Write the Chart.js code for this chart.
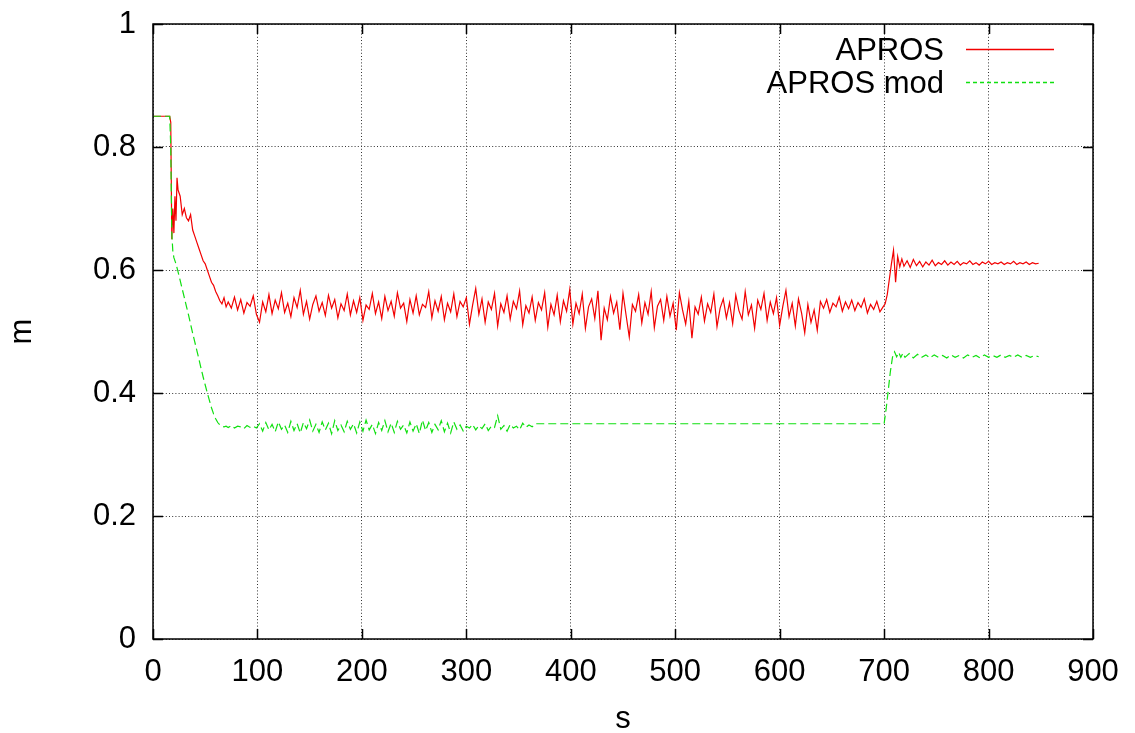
<!DOCTYPE html>
<html>
<head>
<meta charset="utf-8">
<title>APROS vs APROS mod</title>
<script src="https://cdn.jsdelivr.net/npm/chart.js@4.4.0/dist/chart.umd.min.js"></script>
<style>
  html, body { margin: 0; padding: 0; background: #fff; }
  canvas { display: block; }
</style>
</head>
<body>
<canvas id="chart" width="1135" height="733"></canvas>
<script>
// axis ticks
const xTickValues = [0, 100, 200, 300, 400, 500, 600, 700, 800, 900];
const yTickValues = [0, 0.2, 0.4, 0.6, 0.8, 1];

// APROS (red, solid) - time in s, value in m
const redTimes = [
    0, 16, 17, 18, 19, 20, 21, 22, 23, 24,
    26, 28, 30, 32, 34, 36, 38, 40, 42, 44, 46, 48, 50, 52, 54, 56, 58, 60, 62, 64, 66, 68, 70,
    72, 75, 78, 81, 84, 87, 90, 93, 96, 99,
    102, 105, 108, 111, 114, 117, 120, 123, 126, 129,
    132, 135, 138, 141, 144, 147, 150, 153, 156, 159,
    162, 165, 168, 171, 174, 177, 180, 183, 186, 189,
    192, 195, 198, 201, 204, 207, 210, 213, 216, 219,
    222, 225, 228, 231, 234, 237, 240, 243, 246, 249,
    252, 255, 258, 261, 264, 267, 270, 273, 276, 279,
    282, 285, 288, 291, 294, 297, 300, 303, 306, 309,
    312, 315, 318, 321, 324, 327, 330, 333, 336, 339,
    342, 345, 348, 351, 354, 357, 360, 363, 366, 369,
    372, 375, 378, 381, 384, 387, 390, 393, 396, 399,
    402, 405, 408, 411, 414, 417, 420, 423, 426, 429,
    432, 435, 438, 441, 444, 447, 450, 453, 456, 459,
    462, 465, 468, 471, 474, 477, 480, 483, 486, 489,
    492, 495, 498, 501, 504, 507, 510, 513, 516, 519,
    522, 525, 528, 531, 534, 537, 540, 543, 546, 549,
    552, 555, 558, 561, 564, 567, 570, 573, 576, 579,
    582, 585, 588, 591, 594, 597, 600, 603, 606, 609,
    612, 615, 618, 621, 624, 627, 630, 633, 636, 639,
    642, 645, 648, 651, 654, 657, 660, 663, 666, 669,
    672, 675, 678, 681, 684, 687, 690, 693, 696, 699,
    701, 703, 705, 707, 709, 711, 713, 715, 717, 719,
    722, 725, 728, 731, 734, 737, 740, 743, 746, 749,
    752, 755, 758, 761, 764, 767, 770, 773, 776, 779,
    782, 785, 788, 791, 794, 797, 800, 803, 806, 809,
    812, 815, 818, 821, 824, 827, 830, 833, 836, 839,
    842, 845, 848
];
const redValues = [
    0.85, 0.85, 0.84, 0.65, 0.70, 0.66, 0.72, 0.68, 0.75, 0.73,
    0.72, 0.69, 0.70, 0.685, 0.68, 0.69, 0.665, 0.655, 0.645, 0.635, 0.625, 0.615, 0.61, 0.60, 0.59, 0.58, 0.575, 0.565, 0.558, 0.55, 0.545, 0.555, 0.54,
    0.548, 0.538, 0.556, 0.535, 0.552, 0.530, 0.547, 0.541, 0.558, 0.528,
    0.515, 0.548, 0.532, 0.560, 0.529, 0.551, 0.537, 0.563, 0.531, 0.546,
    0.524, 0.555, 0.539, 0.567, 0.528, 0.549, 0.520, 0.544, 0.558, 0.533,
    0.547, 0.526, 0.559, 0.538, 0.552, 0.522, 0.545, 0.534, 0.561, 0.527,
    0.550, 0.531, 0.555, 0.518, 0.543, 0.536, 0.562, 0.529, 0.548, 0.521,
    0.557, 0.534, 0.549, 0.525, 0.563, 0.538, 0.546, 0.516, 0.552, 0.530,
    0.558, 0.527, 0.544, 0.539, 0.565, 0.522, 0.550, 0.533, 0.557, 0.519,
    0.546, 0.532, 0.561, 0.524, 0.549, 0.540, 0.555, 0.512, 0.543, 0.570,
    0.528, 0.553, 0.515, 0.548, 0.536, 0.562, 0.509, 0.545, 0.531, 0.558,
    0.520, 0.549, 0.537, 0.566, 0.511, 0.542, 0.530, 0.556, 0.518, 0.547,
    0.535, 0.563, 0.507, 0.544, 0.527, 0.559, 0.516, 0.550, 0.533, 0.568,
    0.512, 0.546, 0.529, 0.561, 0.505, 0.540, 0.553, 0.521, 0.566, 0.486,
    0.538, 0.519, 0.557, 0.530, 0.548, 0.503, 0.562, 0.526, 0.491, 0.544,
    0.533, 0.560, 0.514, 0.547, 0.528, 0.565, 0.506, 0.541, 0.552, 0.518,
    0.557, 0.525, 0.546, 0.502, 0.563, 0.535, 0.512, 0.549, 0.489, 0.540,
    0.528, 0.556, 0.517, 0.545, 0.531, 0.561, 0.508, 0.538, 0.553, 0.522,
    0.547, 0.513, 0.559, 0.534, 0.520, 0.565, 0.527, 0.543, 0.505, 0.551,
    0.536, 0.562, 0.518, 0.548, 0.529, 0.555, 0.510, 0.541, 0.567, 0.524,
    0.546, 0.509, 0.553, 0.530, 0.498, 0.544, 0.515, 0.535, 0.502, 0.549,
    0.538, 0.552, 0.531, 0.546, 0.540, 0.556, 0.533, 0.548, 0.537, 0.551,
    0.534, 0.547, 0.539, 0.553, 0.530, 0.544, 0.536, 0.549, 0.532, 0.540,
    0.545, 0.560, 0.585, 0.610, 0.632, 0.580, 0.622, 0.605, 0.618, 0.606,
    0.615, 0.604, 0.617, 0.607, 0.614, 0.605, 0.613, 0.608, 0.616, 0.607,
    0.612, 0.609, 0.615, 0.608, 0.613, 0.609, 0.614, 0.608, 0.612, 0.610,
    0.615, 0.609, 0.612, 0.608, 0.613, 0.610, 0.614, 0.609, 0.612, 0.610,
    0.613, 0.609, 0.612, 0.610, 0.614, 0.609, 0.612, 0.610, 0.613, 0.609,
    0.612, 0.610, 0.611
];

// APROS mod (green, dashed)
const greenTimes = [
    0, 16, 17, 18, 19,
    20, 22, 24, 26, 28, 30, 32, 34, 36, 38, 40, 42, 44, 46, 48, 50, 52, 54, 56, 58, 60, 62, 64, 66, 68, 70,
    72, 75, 78, 81, 84, 87, 90, 93, 96, 99,
    102, 105, 108, 111, 114, 117, 120, 123, 126, 129,
    132, 135, 138, 141, 144, 147, 150, 153, 156, 159,
    162, 165, 168, 171, 174, 177, 180, 183, 186, 189,
    192, 195, 198, 201, 204, 207, 210, 213, 216, 219,
    222, 225, 228, 231, 234, 237, 240, 243, 246, 249,
    252, 255, 258, 261, 264, 267, 270, 273, 276, 279,
    282, 285, 288, 291, 294, 297, 300, 303, 306, 309,
    312, 315, 318, 321, 324, 327, 330, 333, 336, 339,
    342, 345, 348, 351, 354, 357, 360, 363,
    366,
    700, 702, 704, 706, 708, 710, 712, 714, 716, 718, 720,
    724, 728, 732, 736, 740, 744, 748, 752, 756, 760,
    764, 768, 772, 776, 780, 784, 788, 792, 796, 800,
    804, 808, 812, 816, 820, 824, 828, 832, 836, 840,
    844, 848
];
const greenValues = [
    0.85, 0.85, 0.80, 0.66, 0.63,
    0.62, 0.61, 0.597, 0.583, 0.569, 0.555, 0.541, 0.527, 0.512, 0.497, 0.483, 0.469, 0.455, 0.44, 0.426, 0.413, 0.40, 0.388, 0.376, 0.366, 0.358, 0.352, 0.348, 0.346, 0.345, 0.346,
    0.344, 0.347, 0.343, 0.346, 0.345, 0.342, 0.347, 0.344, 0.346, 0.343,
    0.350, 0.338, 0.352, 0.340, 0.349, 0.337, 0.353, 0.341, 0.348, 0.336,
    0.354, 0.339, 0.350, 0.335, 0.352, 0.342, 0.356, 0.338, 0.349, 0.336,
    0.353, 0.340, 0.351, 0.334, 0.355, 0.339, 0.348, 0.337, 0.354, 0.341,
    0.350, 0.335, 0.353, 0.338, 0.356, 0.340, 0.349, 0.334, 0.352, 0.339,
    0.355, 0.337, 0.351, 0.336, 0.354, 0.341, 0.348, 0.335, 0.353, 0.338,
    0.350, 0.334, 0.356, 0.339, 0.352, 0.336, 0.349, 0.340, 0.355, 0.337,
    0.351, 0.335, 0.353, 0.341, 0.348, 0.338, 0.346, 0.343, 0.349, 0.340,
    0.347, 0.342, 0.350, 0.339, 0.346, 0.344, 0.363, 0.341, 0.347, 0.338,
    0.349, 0.343, 0.346, 0.340, 0.351, 0.344, 0.348, 0.345,
    0.35,
    0.35, 0.375, 0.405, 0.435, 0.458, 0.467, 0.459, 0.466, 0.458, 0.465, 0.458,
    0.464, 0.457, 0.463, 0.458, 0.462, 0.457, 0.462, 0.458, 0.461, 0.457,
    0.462, 0.458, 0.461, 0.457, 0.462, 0.458, 0.461, 0.457, 0.462, 0.458,
    0.461, 0.458, 0.462, 0.458, 0.461, 0.458, 0.462, 0.458, 0.461, 0.458,
    0.461, 0.459
];

const FONT = "'Liberation Sans', Arial, Helvetica, sans-serif";
Chart.defaults.font.family = FONT;
Chart.defaults.font.size = 31;
Chart.defaults.color = '#000';

const RED = '#f20000';
const GREEN = '#10e010';
const legendColors = [RED, GREEN];

// gnuplot style frame with inward ticks on all four sides
const framePlugin = {
    id: 'frame',
    afterDatasetsDraw(chart) {
        const { ctx, chartArea: a, scales } = chart;
        ctx.save();
        ctx.strokeStyle = '#000';
        ctx.lineWidth = 1.5;
        ctx.setLineDash([]);
        ctx.strokeRect(a.left, a.top, a.right - a.left, a.bottom - a.top);
        ctx.beginPath();
        const tl = 10;
        xTickValues.forEach(v => {
            const x = Math.round(scales.x.getPixelForValue(v)) + 0.5;
            ctx.moveTo(x, a.bottom); ctx.lineTo(x, a.bottom - tl);
            ctx.moveTo(x, a.top); ctx.lineTo(x, a.top + tl);
        });
        yTickValues.forEach(v => {
            const y = Math.round(scales.y.getPixelForValue(v)) + 0.5;
            ctx.moveTo(a.left, y); ctx.lineTo(a.left + tl, y);
            ctx.moveTo(a.right, y); ctx.lineTo(a.right - tl, y);
        });
        ctx.stroke();
        ctx.restore();
    },
    afterDraw(chart) {
        // legend: right aligned label, then line sample
        const { ctx } = chart;
        ctx.save();
        ctx.font = '31px ' + FONT;
        ctx.textAlign = 'right';
        ctx.textBaseline = 'alphabetic';
        chart.data.datasets.forEach((ds, i) => {
            const yLine = 49.5 + i * 33;
            ctx.fillStyle = '#000';
            ctx.fillText(ds.label, 944, 60 + i * 33);
            ctx.beginPath();
            ctx.strokeStyle = legendColors[i];
            ctx.lineWidth = 1.3;
            ctx.setLineDash(i === 0 ? [] : [4, 3]);
            ctx.moveTo(966, yLine);
            ctx.lineTo(1054, yLine);
            ctx.stroke();
        });
        ctx.restore();
    }
};

new Chart(document.getElementById('chart').getContext('2d'), {
    type: 'line',
    data: {
        datasets: [
            {
                label: 'APROS',
                data: redTimes.map((t, i) => ({ x: t, y: redValues[i] })),
                borderColor: RED,
                borderWidth: 1.2,
                pointRadius: 0,
                tension: 0,
                order: 1
            },
            {
                label: 'APROS mod',
                data: greenTimes.map((t, i) => ({ x: t, y: greenValues[i] })),
                borderColor: GREEN,
                borderWidth: 1.2,
                borderDash: [8, 4],
                pointRadius: 0,
                tension: 0,
                order: 0
            }
        ]
    },
    options: {
        responsive: false,
        animation: false,
        layout: { padding: { top: 24, right: 42, left: 0, bottom: 0 } },
        plugins: {
            legend: { display: false },
            tooltip: { enabled: false }
        },
        scales: {
            x: {
                type: 'linear',
                min: 0,
                max: 900,
                afterBuildTicks: s => { s.ticks = xTickValues.map(v => ({ value: v })); },
                afterFit: s => {
                    s.height = 94;
                    s.paddingLeft = 0;
                    s.paddingRight = 0;
                },
                ticks: { padding: 15, maxRotation: 0, autoSkip: false, callback: v => String(v) },
                grid: { color: '#333', lineWidth: 1, drawTicks: false },
                border: { display: false, dash: [1, 2.2] },
                title: { display: true, text: 's', padding: { top: 0, bottom: -5 } }
            },
            y: {
                type: 'linear',
                min: 0,
                max: 1,
                afterBuildTicks: s => { s.ticks = yTickValues.map(v => ({ value: v })); },
                afterFit: s => {
                    s.width = 153;
                    s.paddingTop = 0;
                    s.paddingBottom = 0;
                },
                ticks: { padding: 17, callback: v => String(v) },
                grid: { color: '#333', lineWidth: 1, drawTicks: false },
                border: { display: false, dash: [1, 2.2] },
                title: { display: true, text: 'm', padding: { top: 4, bottom: 0 } }
            }
        }
    },
    plugins: [framePlugin]
});
</script>
</body>
</html>
